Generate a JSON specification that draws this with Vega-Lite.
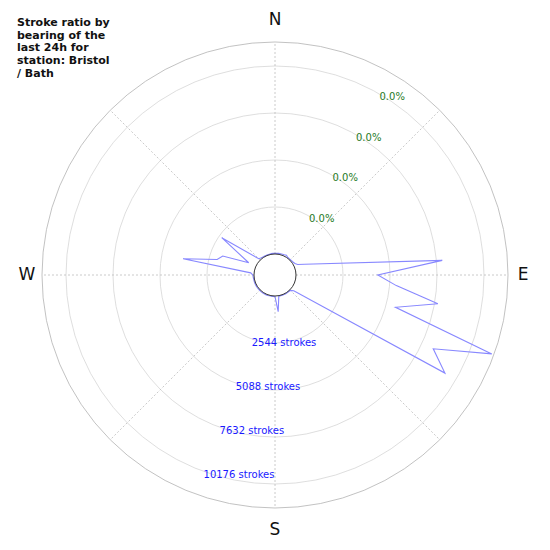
{
  "$schema": "https://vega.github.io/schema/vega-lite/v6.json",
  "width": 550,
  "height": 550,
  "autosize": "none",
  "padding": 0,
  "background": "white",
  "config": {"view": {"stroke": null}, "font": "DejaVu Sans"},
  "title": {
    "text": ["Stroke ratio by", "bearing of the", "last 24h for", "station: Bristol", "/ Bath"],
    "anchor": "start",
    "frame": "group",
    "orient": "top",
    "baseline": "top",
    "offset": -79,
    "dx": 17,
    "font": "DejaVu Sans",
    "fontSize": 11,
    "fontWeight": "bold",
    "lineHeight": 12.8,
    "color": "#111"
  },
  "datasets": {
    "strokes": [
      {"bearing": 0, "strokes": 40}, {"bearing": 5, "strokes": 40}, {"bearing": 10, "strokes": 50},
      {"bearing": 15, "strokes": 50}, {"bearing": 20, "strokes": 60}, {"bearing": 25, "strokes": 70},
      {"bearing": 30, "strokes": 100}, {"bearing": 35, "strokes": 50}, {"bearing": 40, "strokes": 40},
      {"bearing": 45, "strokes": 40}, {"bearing": 50, "strokes": 50}, {"bearing": 55, "strokes": 70},
      {"bearing": 60, "strokes": 110}, {"bearing": 65, "strokes": 215}, {"bearing": 70, "strokes": 563},
      {"bearing": 85, "strokes": 7951}, {"bearing": 90, "strokes": 4428}, {"bearing": 95, "strokes": 5456},
      {"bearing": 100, "strokes": 7816}, {"bearing": 105, "strokes": 5618}, {"bearing": 110, "strokes": 11351},
      {"bearing": 115, "strokes": 8314}, {"bearing": 120, "strokes": 9483}, {"bearing": 130, "strokes": 190},
      {"bearing": 135, "strokes": 40}, {"bearing": 140, "strokes": 30}, {"bearing": 145, "strokes": 30},
      {"bearing": 150, "strokes": 30}, {"bearing": 155, "strokes": 30}, {"bearing": 160, "strokes": 30},
      {"bearing": 165, "strokes": 30}, {"bearing": 170, "strokes": 40}, {"bearing": 175, "strokes": 855},
      {"bearing": 180, "strokes": 40}, {"bearing": 185, "strokes": 30}, {"bearing": 190, "strokes": 30},
      {"bearing": 195, "strokes": 30}, {"bearing": 200, "strokes": 40}, {"bearing": 205, "strokes": 40},
      {"bearing": 210, "strokes": 40}, {"bearing": 215, "strokes": 40}, {"bearing": 220, "strokes": 40},
      {"bearing": 225, "strokes": 40}, {"bearing": 230, "strokes": 40}, {"bearing": 235, "strokes": 40},
      {"bearing": 240, "strokes": 40}, {"bearing": 245, "strokes": 40}, {"bearing": 250, "strokes": 40},
      {"bearing": 255, "strokes": 40}, {"bearing": 260, "strokes": 40}, {"bearing": 265, "strokes": 50},
      {"bearing": 270, "strokes": 60}, {"bearing": 275, "strokes": 184}, {"bearing": 280, "strokes": 3913},
      {"bearing": 285, "strokes": 2106}, {"bearing": 290, "strokes": 1873}, {"bearing": 295, "strokes": 433},
      {"bearing": 305, "strokes": 2382}, {"bearing": 315, "strokes": 108}, {"bearing": 320, "strokes": 60},
      {"bearing": 325, "strokes": 40}, {"bearing": 330, "strokes": 30}, {"bearing": 335, "strokes": 30},
      {"bearing": 340, "strokes": 30}, {"bearing": 345, "strokes": 30}, {"bearing": 350, "strokes": 40},
      {"bearing": 355, "strokes": 40}, {"bearing": 360, "strokes": 40}
    ],
    "rings": [
      {"strokes": 2544, "kind": "grid"},
      {"strokes": 5088, "kind": "grid"},
      {"strokes": 7632, "kind": "grid"},
      {"strokes": 10176, "kind": "grid"},
      {"strokes": 11475, "kind": "outer"}
    ],
    "inner": [{"strokes": 0}],
    "spokes": [
      {"bearing": 0}, {"bearing": 45}, {"bearing": 90}, {"bearing": 135},
      {"bearing": 180}, {"bearing": 225}, {"bearing": 270}, {"bearing": 315}
    ],
    "compass": [
      {"label": "N", "bearing": 0, "strokes": 12640},
      {"label": "E", "bearing": 90, "strokes": 12290},
      {"label": "S", "bearing": 180, "strokes": 12640},
      {"label": "W", "bearing": 270, "strokes": 12290}
    ],
    "ringLabels": [
      {"label": "2544 strokes", "bearing": 200, "strokes": 2544},
      {"label": "5088 strokes", "bearing": 200, "strokes": 5088},
      {"label": "7632 strokes", "bearing": 200, "strokes": 7632},
      {"label": "10176 strokes", "bearing": 200, "strokes": 10176}
    ],
    "pctLabels": [
      {"label": "0.0%", "bearing": 30, "strokes": 2544},
      {"label": "0.0%", "bearing": 30, "strokes": 5088},
      {"label": "0.0%", "bearing": 30, "strokes": 7632},
      {"label": "0.0%", "bearing": 30, "strokes": 10176}
    ]
  },
  "layer": [
    {
      "data": {"name": "rings"},
      "transform": [{"calculate": "datum.strokes + 1137", "as": "rr"}],
      "mark": {"type": "point", "shape": "circle", "filled": false, "strokeWidth": 0.8, "opacity": 1},
      "encoding": {
        "x": {"datum": 0, "type": "quantitative", "scale": {"domain": [-14885, 14885]}, "axis": null},
        "y": {"datum": 0, "type": "quantitative", "scale": {"domain": [-14885, 14885]}, "axis": null},
        "size": {"field": "rr", "type": "quantitative", "scale": {"type": "pow", "exponent": 2, "domain": [0, 14885], "range": [0, 302500]}, "legend": null},
        "stroke": {"field": "kind", "type": "nominal", "scale": {"domain": ["grid", "outer"], "range": ["#d6d6d6", "#b3b3b3"]}, "legend": null}
      }
    },
    {
      "data": {"name": "spokes"},
      "transform": [
        {"calculate": "1137 * sin(datum.bearing * PI / 180)", "as": "x1"},
        {"calculate": "1137 * cos(datum.bearing * PI / 180)", "as": "y1"},
        {"calculate": "12612 * sin(datum.bearing * PI / 180)", "as": "x2"},
        {"calculate": "12612 * cos(datum.bearing * PI / 180)", "as": "y2"}
      ],
      "mark": {"type": "rule", "color": "#bdbdbd", "strokeWidth": 0.8, "strokeDash": [2, 2]},
      "encoding": {
        "x": {"field": "x1", "type": "quantitative", "scale": {"domain": [-14885, 14885]}, "axis": null},
        "y": {"field": "y1", "type": "quantitative", "scale": {"domain": [-14885, 14885]}, "axis": null},
        "x2": {"field": "x2"},
        "y2": {"field": "y2"}
      }
    },
    {
      "data": {"name": "strokes"},
      "transform": [
        {"calculate": "datum.strokes + 1137", "as": "rr"},
        {"calculate": "datum.rr * sin(datum.bearing * PI / 180)", "as": "px"},
        {"calculate": "datum.rr * cos(datum.bearing * PI / 180)", "as": "py"}
      ],
      "mark": {"type": "line", "color": "#8888ff", "strokeWidth": 1.1},
      "encoding": {
        "x": {"field": "px", "type": "quantitative", "scale": {"domain": [-14885, 14885]}, "axis": null},
        "y": {"field": "py", "type": "quantitative", "scale": {"domain": [-14885, 14885]}, "axis": null},
        "order": {"field": "bearing", "type": "quantitative"}
      }
    },
    {
      "data": {"name": "inner"},
      "transform": [{"calculate": "datum.strokes + 1137", "as": "rr"}],
      "mark": {"type": "point", "shape": "circle", "filled": false, "stroke": "#333333", "strokeWidth": 1, "opacity": 1},
      "encoding": {
        "x": {"datum": 0, "type": "quantitative", "scale": {"domain": [-14885, 14885]}, "axis": null},
        "y": {"datum": 0, "type": "quantitative", "scale": {"domain": [-14885, 14885]}, "axis": null},
        "size": {"field": "rr", "type": "quantitative", "scale": {"type": "pow", "exponent": 2, "domain": [0, 14885], "range": [0, 302500]}, "legend": null}
      }
    },
    {
      "data": {"name": "compass"},
      "transform": [
        {"calculate": "datum.strokes + 1137", "as": "rr"},
        {"calculate": "datum.rr * sin(datum.bearing * PI / 180)", "as": "px"},
        {"calculate": "datum.rr * cos(datum.bearing * PI / 180)", "as": "py"}
      ],
      "mark": {"type": "text", "fontSize": 17, "color": "#111", "align": "center", "baseline": "middle"},
      "encoding": {
        "x": {"field": "px", "type": "quantitative", "scale": {"domain": [-14885, 14885]}, "axis": null},
        "y": {"field": "py", "type": "quantitative", "scale": {"domain": [-14885, 14885]}, "axis": null},
        "text": {"field": "label"}
      }
    },
    {
      "data": {"name": "ringLabels"},
      "transform": [
        {"calculate": "datum.strokes + 1137", "as": "rr"},
        {"calculate": "datum.rr * sin(datum.bearing * PI / 180)", "as": "px"},
        {"calculate": "datum.rr * cos(datum.bearing * PI / 180)", "as": "py"}
      ],
      "mark": {"type": "text", "fontSize": 10, "color": "#1a1aff", "align": "left", "baseline": "middle", "dy": 4},
      "encoding": {
        "x": {"field": "px", "type": "quantitative", "scale": {"domain": [-14885, 14885]}, "axis": null},
        "y": {"field": "py", "type": "quantitative", "scale": {"domain": [-14885, 14885]}, "axis": null},
        "text": {"field": "label"}
      }
    },
    {
      "data": {"name": "pctLabels"},
      "transform": [
        {"calculate": "datum.strokes + 1137", "as": "rr"},
        {"calculate": "datum.rr * sin(datum.bearing * PI / 180)", "as": "px"},
        {"calculate": "datum.rr * cos(datum.bearing * PI / 180)", "as": "py"}
      ],
      "mark": {"type": "text", "fontSize": 10, "color": "#1f7a1f", "align": "left", "baseline": "middle", "dy": 3},
      "encoding": {
        "x": {"field": "px", "type": "quantitative", "scale": {"domain": [-14885, 14885]}, "axis": null},
        "y": {"field": "py", "type": "quantitative", "scale": {"domain": [-14885, 14885]}, "axis": null},
        "text": {"field": "label"}
      }
    }
  ]
}
